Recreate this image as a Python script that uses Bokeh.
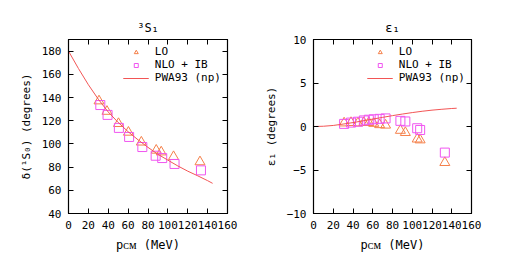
from bokeh.plotting import figure
from bokeh.layouts import row
from bokeh.models import LinearAxis, Legend, LegendItem, FixedTicker
from bokeh.embed import file_html
from bokeh.resources import INLINE

FONT = "DejaVu Sans Mono"

# ---- 3S1 phase shift data ----
s_p_lo = [30.7, 38.7, 50.3, 60.3, 73.3, 88.3, 93.3, 105.7, 132.3]
s_lo = [137.0, 128.0, 117.5, 110.0, 101.5, 94.5, 93.0, 89.0, 84.5]
s_p_nlo = [32.0, 39.3, 50.7, 61.0, 74.3, 87.7, 94.3, 106.7, 133.3]
s_nlo = [133.5, 125.0, 113.8, 106.0, 97.3, 89.8, 87.8, 82.7, 77.2]
s_p_pwa = [0, 10, 20, 30, 40, 50, 60, 70, 80, 90, 100, 110, 120, 130, 140, 145]
s_pwa = [180, 165, 151, 138.5, 127.5, 118.5, 110.5, 103.5, 97, 91, 86, 81, 76.5, 72.5, 68.3, 66]

# ---- epsilon1 mixing angle data ----
e_p = [31, 38, 45, 51, 56, 61, 67, 73, 88, 93, 105, 108, 133]
e_lo = [0.4, 0.45, 0.4, 0.45, 0.45, 0.35, 0.2, 0.15, -0.45, -0.7, -1.45, -1.55, -4.15]
e_nlo = [0.3, 0.45, 0.55, 0.7, 0.78, 0.83, 0.88, 0.93, 0.65, 0.58, -0.2, -0.4, -3.0]
e_p_pwa = [0, 10, 20, 30, 40, 50, 60, 70, 80, 90, 100, 110, 120, 130, 140, 145]
e_pwa = [0, 0.03, 0.12, 0.28, 0.45, 0.65, 0.85, 1.05, 1.25, 1.43, 1.6, 1.75, 1.88, 1.98, 2.07, 2.1]

x_ticks = [0, 20, 40, 60, 80, 100, 120, 140, 160]
s_ticks = [40, 60, 80, 100, 120, 140, 160, 180]
e_ticks = [-10, -5, 0, 5, 10]

C_LO = "#f5804a"
C_NLO = "#f055f0"
C_PWA = "#f25555"
FS = "11px"


def style_axis(ax, ticks, show_labels=True):
    ax.ticker = FixedTicker(ticks=ticks)
    ax.major_tick_in = 5
    ax.major_tick_out = 0
    ax.minor_tick_line_color = None
    ax.major_tick_line_color = "black"
    ax.axis_line_color = "black"
    ax.major_label_text_font = FONT
    ax.major_label_text_font_size = FS
    ax.major_label_text_color = "black"
    ax.major_label_standoff = 7
    ax.axis_label_text_color = "black"
    if not show_labels:
        ax.major_label_text_alpha = 0
        ax.major_label_text_font_size = "1px"
        ax.major_label_standoff = 0


def make_fig(title, yrange, yticks, ylabel, px_lo, lo, px_nlo, nlo, px_pwa, pwa, width, bl, br):
    p = figure(width=width, height=268, x_range=(0, 160), y_range=yrange,
               output_backend="svg", toolbar_location=None,
               min_border_left=bl, min_border_right=br, min_border_top=39, min_border_bottom=55)
    p.title.text = title
    p.title.align = "center"
    p.title.text_font = FONT
    p.title.text_font_size = "12px"
    p.title.text_font_style = "normal"
    p.title.text_color = "black"
    p.grid.visible = False
    p.outline_line_color = "black"
    p.outline_line_width = 1.2
    p.background_fill_color = "white"
    p.border_fill_color = "white"

    style_axis(p.xaxis[0], x_ticks)
    p.xaxis[0].axis_label = "pᴄᴍ (MeV)"
    p.xaxis[0].axis_label_text_font = FONT
    p.xaxis[0].axis_label_text_font_size = "12px"
    p.xaxis[0].axis_label_text_font_style = "normal"
    p.xaxis[0].axis_label_standoff = 6

    style_axis(p.yaxis[0], yticks)
    p.yaxis[0].axis_label = ylabel
    p.yaxis[0].axis_label_text_font = FONT
    p.yaxis[0].axis_label_text_font_size = FS
    p.yaxis[0].axis_label_text_font_style = "normal"
    p.yaxis[0].axis_label_standoff = 6

    top = LinearAxis()
    style_axis(top, x_ticks, show_labels=False)
    p.add_layout(top, "above")
    right = LinearAxis()
    style_axis(right, yticks, show_labels=False)
    p.add_layout(right, "right")

    r_lo = p.scatter(px_lo, lo, marker="triangle", size=10, fill_color=None,
                     line_color=C_LO, line_width=1)
    r_nlo = p.scatter(px_nlo, nlo, marker="square", size=9, fill_color=None,
                      line_color=C_NLO, line_width=1)
    r_pwa = p.line(px_pwa, pwa, line_color=C_PWA, line_width=1)

    leg = Legend(items=[LegendItem(label="LO", renderers=[r_lo]),
                        LegendItem(label="NLO + IB", renderers=[r_nlo]),
                        LegendItem(label="PWA93 (np)", renderers=[r_pwa])],
                 location="top_right", border_line_color=None,
                 background_fill_alpha=0, label_text_font=FONT,
                 label_text_font_size=FS, label_text_color="black",
                 label_height=10, glyph_height=10,
                 glyph_width=26, spacing=0, padding=2, margin=6,
                 label_standoff=6)
    p.add_layout(leg, "center")
    return p


p1 = make_fig("³S₁", (40, 190), s_ticks, "δ(¹S₀) (degrees)",
              s_p_lo, s_lo, s_p_nlo, s_nlo, s_p_pwa, s_pwa, 253, 68, 26)
p2 = make_fig("ε₁", (-10, 10), e_ticks, "ε₁ (degrees)",
              e_p, e_lo, e_p, e_nlo, e_p_pwa, e_pwa, 256, 60, 38)
p2.yaxis[0].major_label_overrides = {-10: "−10", -5: "−5"}

layout = row(p1, p2)
open("out.html", "w").write(file_html(layout, INLINE))
